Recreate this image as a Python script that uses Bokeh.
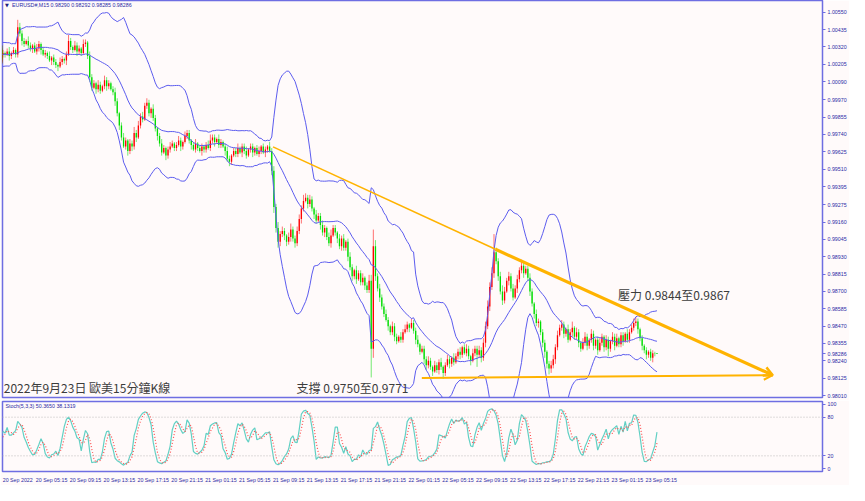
import numpy as np
from bokeh.plotting import figure
from bokeh.layouts import column
from bokeh.models import Range1d, FixedTicker, Label, Arrow, OpenHead, Span
from bokeh.embed import file_html
from bokeh.resources import INLINE

# ---------------- data ----------------
symbol_info = "EURUSD#,M15  0.98290 0.98292 0.98285 0.98286"
stoch_info = "Stoch(5,3,3) 50.3650 38.1319"
chart_title = "2022年9月23日 歐美15分鐘K線"
support_text = "支撐 0.9750至0.9771"
resistance_text = "壓力 0.9844至0.9867"
last_price = 0.98286
last_price_text = "0.98286"

price_ticks = [1.00550, 1.00435, 1.00320, 1.00205, 1.00090, 0.99970, 0.99855,
               0.99740, 0.99625, 0.99510, 0.99395, 0.99275, 0.99160, 0.99045,
               0.98930, 0.98815, 0.98700, 0.98585, 0.98470, 0.98355, 0.98240,
               0.98125, 0.98010]
price_tick_labels = ["1.00550", "1.00435", "1.00320", "1.00205", "1.00090", "0.99970",
                     "0.99855", "0.99740", "0.99625", "0.99510", "0.99395", "0.99275",
                     "0.99160", "0.99045", "0.98930", "0.98815", "0.98700", "0.98585",
                     "0.98470", "0.98355", "0.98240", "0.98125", "0.98010"]
stoch_ticks = [0, 20, 80, 100]
time_labels = ["20 Sep 2022", "20 Sep 05:15", "20 Sep 09:15", "20 Sep 13:15", "20 Sep 17:15",
               "20 Sep 21:15", "21 Sep 01:15", "21 Sep 05:15", "21 Sep 09:15", "21 Sep 13:15",
               "21 Sep 17:15", "21 Sep 21:15", "22 Sep 01:15", "22 Sep 05:15", "22 Sep 09:15",
               "22 Sep 13:15", "22 Sep 17:15", "22 Sep 21:15", "23 Sep 01:15", "23 Sep 05:15"]
bars_per_label = 16

# bars before the visible window (needed by the indicators)
earlier_closes = [1.0022, 1.0025, 1.0030, 1.0027, 1.0021, 1.0024, 1.0029, 1.0033, 1.0028, 1.0025,
                  1.0030, 1.0026, 1.0023, 1.0027, 1.0031, 1.0028, 1.0024, 1.0026, 1.0029, 1.0027]

# M15 closes, first visible bar = 20 Sep 01:15
closes = [
    1.0028, 1.0027, 1.0029, 1.0026, 1.0028, 1.0030, 1.0027, 1.0045, 1.0041, 1.0036,
    1.0034, 1.0036, 1.0033, 1.0031, 1.0033, 1.0029, 1.0031, 1.0034, 1.0030, 1.0027,
    1.0028, 1.0026, 1.0023, 1.0025, 1.0022, 1.0020, 1.0019, 1.0022, 1.0024, 1.0023,
    1.0027, 1.0036, 1.0032, 1.0030, 1.0033, 1.0029, 1.0031, 1.0028, 1.0034, 1.0035,
    1.0026, 1.0012, 1.0005, 1.0008, 1.0004, 1.0007, 1.0003, 1.0006, 1.0010, 1.0006,
    1.0008, 1.0004, 1.0002, 0.9996, 0.9988, 0.9980, 0.9972, 0.9966, 0.9970, 0.9963,
    0.9968, 0.9966, 0.9975, 0.9972, 0.9980, 0.9986, 0.9984, 0.9993, 0.9995, 0.9988,
    0.9991, 0.9985, 0.9978, 0.9973, 0.9968, 0.9962, 0.9965, 0.9960, 0.9964, 0.9966,
    0.9968, 0.9965, 0.9967, 0.9970, 0.9966, 0.9969, 0.9973, 0.9975, 0.9970, 0.9967,
    0.9964, 0.9968, 0.9965, 0.9963, 0.9966, 0.9964, 0.9967, 0.9965, 0.9970, 0.9972,
    0.9969, 0.9971, 0.9967, 0.9969, 0.9966, 0.9963, 0.9958, 0.9956, 0.9960, 0.9963,
    0.9961, 0.9965, 0.9962, 0.9966, 0.9963, 0.9960, 0.9964, 0.9966, 0.9962, 0.9965,
    0.9961, 0.9963, 0.9966, 0.9962, 0.9964, 0.9966, 0.9963, 0.9950, 0.9926, 0.9912,
    0.9903, 0.9908, 0.9910, 0.9907, 0.9903, 0.9906, 0.9911, 0.9905, 0.9902, 0.9910,
    0.9918, 0.9925, 0.9930, 0.9932, 0.9928, 0.9931, 0.9925, 0.9921, 0.9917, 0.9920,
    0.9914, 0.9909, 0.9912, 0.9906, 0.9902, 0.9907, 0.9912, 0.9909, 0.9905, 0.9900,
    0.9905, 0.9899, 0.9903, 0.9893, 0.9886, 0.9880, 0.9884, 0.9878, 0.9882, 0.9876,
    0.9879, 0.9874, 0.9871, 0.9877, 0.9832, 0.9900, 0.9880, 0.9872, 0.9866, 0.9860,
    0.9855, 0.9851, 0.9847, 0.9843, 0.9847, 0.9840, 0.9837, 0.9840, 0.9838, 0.9843,
    0.9845, 0.9848, 0.9846, 0.9849, 0.9844, 0.9838, 0.9835, 0.9830, 0.9832, 0.9825,
    0.9821, 0.9824, 0.9820, 0.9817, 0.9821, 0.9818, 0.9823, 0.9820, 0.9816, 0.9821,
    0.9825, 0.9822, 0.9826, 0.9823, 0.9827, 0.9830, 0.9828, 0.9833, 0.9829, 0.9832,
    0.9827, 0.9824, 0.9829, 0.9832, 0.9828, 0.9831, 0.9826, 0.9836, 0.9847, 0.9860,
    0.9873, 0.9882, 0.9896, 0.9890, 0.9880, 0.9870, 0.9864, 0.9870, 0.9877, 0.9880,
    0.9872, 0.9866, 0.9872, 0.9878, 0.9884, 0.9887, 0.9882, 0.9885, 0.9879, 0.9870,
    0.9862, 0.9855, 0.9849, 0.9850, 0.9843, 0.9836, 0.9830, 0.9822, 0.9819, 0.9821,
    0.9825, 0.9833, 0.9841, 0.9846, 0.9848, 0.9842, 0.9845, 0.9838, 0.9843, 0.9846,
    0.9840, 0.9843, 0.9836, 0.9832, 0.9836, 0.9840, 0.9834, 0.9838, 0.9842, 0.9834,
    0.9838, 0.9831, 0.9836, 0.9840, 0.9833, 0.9838, 0.9832, 0.9837, 0.9840, 0.9834,
    0.9839, 0.9835, 0.9841, 0.9837, 0.9842, 0.9838, 0.9843, 0.9846, 0.9849, 0.9850,
    0.9845, 0.9839, 0.9834, 0.9831, 0.9828, 0.9830, 0.9826, 0.9829, 0.98290, 0.98286,
]

# wick lengths in pips (earlier bars first, then visible bars)
upper_wicks = [
    2, 1, 3, 2, 1, 2, 3, 1, 2, 2,  1, 3, 2, 1, 2, 2, 3, 1, 2, 2,
    2, 1, 2, 3, 1, 2, 1, 5, 3, 2,  2, 1, 3, 2, 1, 2, 3, 2, 1, 2,
    2, 1, 3, 1, 2, 2, 1, 3, 2, 1,  2, 4, 2, 1, 3, 2, 2, 1, 3, 2,
    1, 3, 2, 2, 1, 3, 2, 1, 3, 2,  2, 1, 2, 3, 2, 1, 2, 3, 2, 1,
    3, 2, 4, 2, 3, 2, 3, 2, 3, 2,  1, 3, 2, 1, 2, 3, 2, 1, 2, 3,
    2, 1, 2, 3, 2, 1, 3, 2, 2, 1,  2, 3, 1, 2, 2, 1, 2, 3, 4, 2,
    2, 1, 3, 2, 1, 2, 3, 2, 1, 2,  2, 3, 1, 2, 2, 3, 1, 2, 2, 1,
    2, 3, 1, 2, 2, 1, 3, 2, 3, 2,  4, 2, 3, 2, 1, 3, 4, 2, 2, 3,
    3, 2, 4, 3, 2, 3, 2, 1, 3, 2,  2, 3, 2, 1, 3, 4, 2, 2, 1, 3,
    2, 3, 1, 2, 3, 2, 1, 3, 2, 2,  3, 1, 2, 4, 4, 11, 4, 2, 3, 2,
    2, 3, 2, 1, 3, 2, 2, 1, 3, 2,  3, 2, 1, 3, 2, 2, 3, 1, 2, 2,
    2, 3, 2, 1, 3, 2, 2, 3, 1, 2,  3, 2, 1, 3, 2, 2, 3, 1, 2, 3,
    2, 1, 3, 2, 2, 3, 2, 3, 3, 4,  3, 4, 12, 3, 2, 3, 4, 3, 2, 3,
    2, 3, 2, 3, 2, 4, 3, 2, 2, 3,  2, 1, 3, 2, 1, 2, 2, 1, 2, 3,
    3, 2, 3, 2, 3, 2, 1, 3, 2, 4,  1, 3, 2, 1, 3, 3, 2, 1, 3, 2,
    1, 2, 3, 2, 1, 3, 2, 1, 3, 2,  3, 1, 2, 2, 1, 3, 2, 2, 3, 3,
    2, 1, 2, 1, 2, 1, 2, 2, 1, 0.2,
]
lower_wicks = [
    1, 2, 2, 1, 3, 2, 1, 2, 2, 3,  1, 2, 2, 1, 3, 2, 1, 2, 2, 1,
    2, 2, 1, 3, 2, 1, 2, 2, 2, 3,  2, 1, 2, 2, 3, 1, 2, 2, 3, 1,
    2, 2, 1, 3, 2, 2, 3, 1, 2, 2,  3, 1, 2, 2, 1, 3, 2, 2, 1, 2,
    2, 3, 2, 1, 3, 2, 2, 1, 2, 3,  2, 1, 2, 3, 2, 3, 2, 1, 2, 3,
    2, 3, 2, 3, 1, 2, 2, 1, 2, 2,  3, 2, 2, 3, 2, 2, 1, 3, 2, 2,
    1, 2, 2, 1, 3, 2, 1, 2, 2, 3,  1, 2, 2, 1, 3, 2, 2, 1, 2, 2,
    3, 1, 2, 2, 1, 3, 2, 3, 2, 1,  2, 2, 1, 3, 2, 2, 1, 2, 3, 2,
    1, 2, 2, 1, 3, 2, 1, 3, 4, 3,  4, 3, 2, 3, 3, 2, 3, 2, 3, 2,
    2, 3, 2, 1, 3, 2, 2, 3, 2, 1,  3, 2, 3, 2, 2, 3, 1, 2, 3, 2,
    3, 2, 2, 3, 2, 3, 2, 3, 1, 2,  2, 3, 2, 2, 19, 6, 3, 2, 3, 2,
    2, 1, 3, 2, 2, 3, 2, 1, 2, 2,  1, 2, 3, 1, 2, 3, 2, 2, 1, 3,
    3, 2, 2, 3, 1, 2, 3, 2, 4, 2,  1, 3, 2, 2, 1, 2, 3, 2, 1, 2,
    2, 3, 1, 2, 8, 2, 3, 2, 3, 2,  3, 2, 3, 2, 3, 2, 3, 2, 1, 3,
    2, 2, 1, 3, 2, 2, 3, 1, 2, 3,  2, 3, 2, 3, 2, 3, 4, 3, 4, 3,
    2, 3, 2, 1, 2, 3, 2, 2, 1, 3,  2, 2, 3, 2, 1, 2, 3, 2, 2, 3,
    2, 3, 1, 2, 3, 2, 5, 2, 2, 3,  1, 2, 2, 3, 1, 2, 2, 1, 2, 2,
    3, 2, 3, 2, 3, 2, 2, 3, 2, 0.1,
]

# hand-drawn trend lines (bar index, price)
resistance_x = [127.6, 232.7, 363.7]
resistance_y = [0.99658, 0.98979, 0.98145]
support_x = [197.9, 363.7]
support_y = [0.98126, 0.98145]

# ---------------- styles ----------------
BG = "#fffafa"
AXIS_BLUE = "#6e6ee2"
TXT_BLUE = "#2a2aa5"
BAND_BLUE = "#5c5cee"
ORANGE = "#ffb300"
BULL = "#ff0000"
BEAR = "#00dd00"
PIP = 0.0001
BB_PERIOD, BB_DEV = 20, 2.8
K_PER, SLOW, D_PER = 5, 3, 3
TICK_FONT = "Liberation Sans"
TICK_SIZE = "5.3px"

# ---------------- derived series ----------------
n_prior = len(earlier_closes)
c = np.array(earlier_closes + closes, dtype=float)
n = min(len(c), len(upper_wicks), len(lower_wicks))
c = c[:n]
o = np.concatenate([[c[0]], c[:-1]])
hi = np.maximum(o, c) + np.array(upper_wicks[:n], dtype=float) * PIP
lo = np.minimum(o, c) - np.array(lower_wicks[:n], dtype=float) * PIP
xs = np.arange(n) - n_prior

bull = c > o
colors = np.where(bull, BULL, BEAR)
body_top = np.maximum(o, c)
body_bot = np.minimum(o, c)
body_bot = np.where(body_top - body_bot < 0.00002, body_top - 0.00002, body_bot)

# Bollinger bands
bb_x, bb_mid, bb_up, bb_dn = [], [], [], []
for t in range(BB_PERIOD - 1, n):
    w = c[t - BB_PERIOD + 1:t + 1]
    m, sd = w.mean(), w.std()
    bb_x.append(xs[t]); bb_mid.append(m); bb_up.append(m + BB_DEV * sd); bb_dn.append(m - BB_DEV * sd)

# Stochastic (MT4 style)
num = np.full(n, np.nan); den = np.full(n, np.nan)
for t in range(K_PER - 1, n):
    ll = lo[t - K_PER + 1:t + 1].min(); hh = hi[t - K_PER + 1:t + 1].max()
    num[t] = c[t] - ll; den[t] = hh - ll
k_line = np.full(n, np.nan)
for t in range(K_PER - 1 + SLOW - 1, n):
    dsum = den[t - SLOW + 1:t + 1].sum()
    k_line[t] = 100.0 * num[t - SLOW + 1:t + 1].sum() / dsum if dsum > 0 else 100.0
d_line = np.full(n, np.nan)
for t in range(K_PER - 1 + SLOW - 1 + D_PER - 1, n):
    d_line[t] = k_line[t - D_PER + 1:t + 1].mean()
valid_k = ~np.isnan(k_line)
valid_d = ~np.isnan(d_line)

# ---------------- price panel ----------------
x_range = Range1d(-0.2, 387.2)
p = figure(width=849, height=400, x_range=x_range, y_range=Range1d(0.97997, 1.00628),
           output_backend="svg", toolbar_location=None, y_axis_location="right",
           x_axis_location=None, background_fill_color=BG, border_fill_color=BG,
           min_border_left=2, min_border_right=26, min_border_top=0, min_border_bottom=3)
p.grid.visible = False
p.outline_line_color = AXIS_BLUE
p.outline_line_width = 1.5

axis_ticks = price_ticks + [last_price]
axis_labels = price_tick_labels + [last_price_text]
ya = p.yaxis[0]
ya.ticker = FixedTicker(ticks=axis_ticks)
ya.major_label_overrides = {t: s for t, s in zip(axis_ticks, axis_labels)}
ya.major_label_text_font = TICK_FONT
ya.major_label_text_font_size = TICK_SIZE
ya.major_label_text_color = TXT_BLUE
ya.axis_line_color = AXIS_BLUE
ya.major_tick_line_color = AXIS_BLUE
ya.major_tick_out = 3
ya.major_tick_in = 0
ya.minor_tick_line_color = None
ya.major_label_standoff = 2

# candles
p.segment(x0=xs, y0=lo, x1=xs, y1=hi, line_color=colors, line_width=1, line_alpha=0.55)
p.vbar(x=xs, width=0.62, top=body_top, bottom=body_bot, fill_color=colors, line_color=None)

# Bollinger bands
for arr in (bb_up, bb_mid, bb_dn):
    p.line(bb_x, arr, line_color=BAND_BLUE, line_width=1)

# trend lines
p.line(resistance_x[:2], resistance_y[:2], line_color=ORANGE, line_width=1.6)
p.add_layout(Arrow(end=OpenHead(size=9, line_color=ORANGE, line_width=2.5),
                   x_start=resistance_x[1], y_start=resistance_y[1],
                   x_end=resistance_x[2], y_end=resistance_y[2],
                   line_color=ORANGE, line_width=3.2))
p.add_layout(Arrow(end=OpenHead(size=9, line_color=ORANGE, line_width=2),
                   x_start=support_x[0], y_start=support_y[0],
                   x_end=support_x[1], y_end=support_y[1],
                   line_color=ORANGE, line_width=2))

# texts
p.add_layout(Label(x=1.0, y=1.00600, text="▼", text_font="DejaVu Sans", text_font_size="5px",
                   text_color="#202080", text_baseline="middle"))
p.add_layout(Label(x=4.3, y=1.00600, text=symbol_info, text_font=TICK_FONT,
                   text_font_size=TICK_SIZE, text_color=TXT_BLUE, text_baseline="middle"))
cjk = "Noto Sans CJK TC"
p.add_layout(Label(x=0.4, y=0.98062, text=chart_title, text_font=cjk, text_font_size="12px",
                   text_color="#3c3c3c", text_baseline="middle"))
p.add_layout(Label(x=138.7, y=0.98062, text=support_text, text_font=cjk, text_font_size="12px",
                   text_color="#3c3c3c", text_baseline="middle"))
p.add_layout(Label(x=290.6, y=0.98680, text=resistance_text, text_font=cjk, text_font_size="12px",
                   text_color="#3c3c3c", text_baseline="middle"))

# ---------------- stochastic panel ----------------
s = figure(width=849, height=85, x_range=x_range, y_range=Range1d(-4.3, 104.3),
           output_backend="svg", toolbar_location=None, y_axis_location="right",
           background_fill_color=BG, border_fill_color=BG,
           min_border_left=2, min_border_right=26, min_border_top=1, min_border_bottom=0)
s.grid.visible = False
s.outline_line_color = AXIS_BLUE
s.outline_line_width = 1.5

sy = s.yaxis[0]
sy.ticker = FixedTicker(ticks=stoch_ticks)
sy.major_label_text_font = TICK_FONT
sy.major_label_text_font_size = TICK_SIZE
sy.major_label_text_color = TXT_BLUE
sy.axis_line_color = AXIS_BLUE
sy.major_tick_line_color = AXIS_BLUE
sy.major_tick_out = 3
sy.major_tick_in = 0
sy.minor_tick_line_color = None
sy.major_label_standoff = 2

label_center_offset = 7.0
tick_pos = [bars_per_label * k + label_center_offset for k in range(len(time_labels))]
sx = s.xaxis[0]
sx.ticker = FixedTicker(ticks=tick_pos)
sx.major_label_overrides = {tp: lab for tp, lab in zip(tick_pos, time_labels)}
sx.major_label_text_font = TICK_FONT
sx.major_label_text_font_size = TICK_SIZE
sx.major_label_text_color = TXT_BLUE
sx.axis_line_color = AXIS_BLUE
sx.major_tick_line_color = None
sx.minor_tick_line_color = None
sx.major_tick_out = 2
sx.major_label_standoff = 3

for lvl in (20, 80):
    s.add_layout(Span(location=lvl, dimension="width", line_color="#bdbdbd",
                      line_dash="1 2", line_width=1))
s.line(xs[valid_k], k_line[valid_k], line_color="#62d0c4", line_width=1.2)
s.line(xs[valid_d], d_line[valid_d], line_color="#ff5050", line_width=1.2, line_dash="1 2")
s.add_layout(Label(x=1.2, y=97.5, text=stoch_info, text_font=TICK_FONT,
                   text_font_size=TICK_SIZE, text_color=TXT_BLUE, text_baseline="middle"))

layout = column(p, s, spacing=0)
open("out.html", "w").write(file_html(layout, INLINE))
